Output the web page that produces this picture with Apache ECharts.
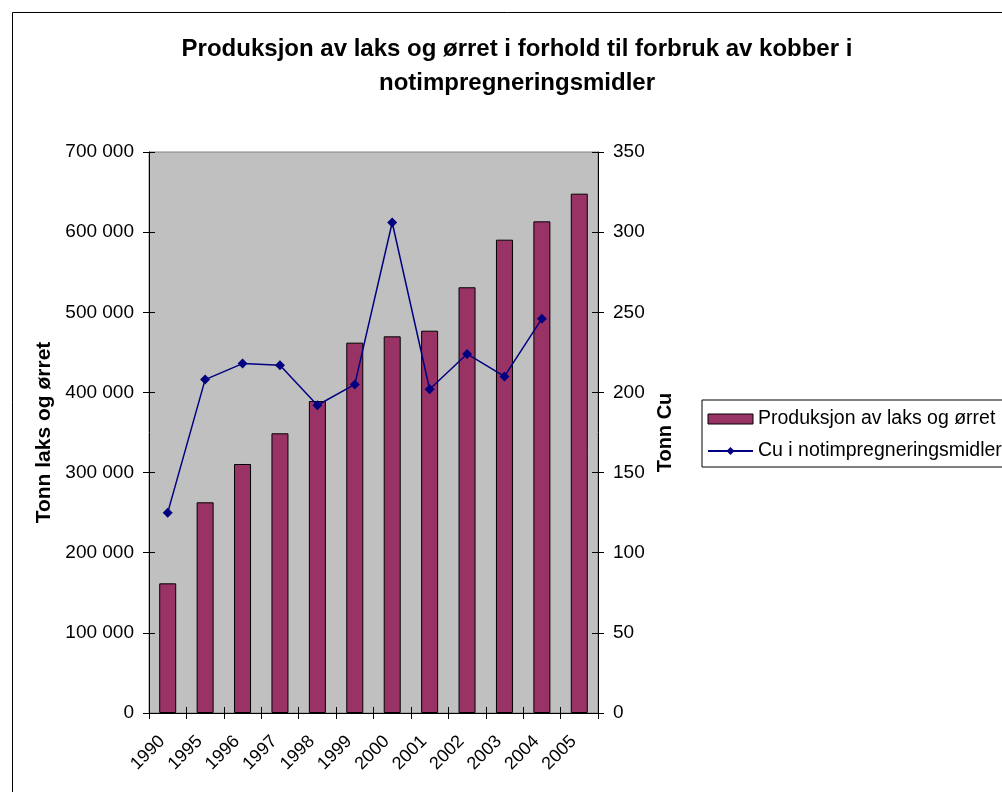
<!DOCTYPE html>
<html>
<head>
<meta charset="utf-8">
<script src="https://cdn.jsdelivr.net/npm/echarts@6/dist/echarts.min.js"></script>
<style>
html,body{margin:0;padding:0;background:#fff;}
#chart{width:1002px;height:792px;}
</style>
</head>
<body>
<div id="chart"></div>
<script>
var categories = ['1990','1995','1996','1997','1998','1999','2000','2001','2002','2003','2004','2005'];
var production = [161800, 262900, 310700, 349000, 389300, 462100, 470000, 477000, 531200, 590600, 613500, 648000];
var copper = [125, 208, 218, 217, 192, 205, 306, 202, 224, 210, 246, null];
var titleText = 'Produksjon av laks og ørret i forhold til forbruk av kobber i\nnotimpregneringsmidler';
var barName = 'Produksjon av laks og ørret';
var lineName = 'Cu i notimpregneringsmidler';
var leftAxisName = 'Tonn laks og ørret';
var rightAxisName = 'Tonn Cu';

var font = 'Liberation Sans, Arial, sans-serif';
function fmt(v){ return String(v).replace(/\B(?=(\d{3})+(?!\d))/g, ' '); }

var tickOnly = {
  axisLine: {show: false},
  axisLabel: {show: false},
  splitLine: {show: false},
  axisTick: {show: true, inside: true, length: 6, lineStyle: {color: '#000'}}
};

var chart = echarts.init(document.getElementById('chart'), null, {renderer:'canvas'});
chart.setOption({
  animation: false,
  backgroundColor: '#ffffff',
  textStyle: {fontFamily: font},
  graphic: [{
    type: 'rect', z: -10,
    shape: {x: 12.5, y: 12.5, width: 1000, height: 800},
    style: {fill: 'none', stroke: '#000', lineWidth: 1}
  }],
  title: {
    text: titleText,
    left: 512, top: 27, textAlign: 'center',
    textStyle: {fontFamily: font, fontSize: 24, fontWeight: 'bold', color: '#000', lineHeight: 34}
  },
  legend: {
    orient: 'vertical', left: 702, top: 400,
    borderColor: '#000', borderWidth: 1, padding: [9, 6, 6, 5],
    itemGap: 12, itemWidth: 45, itemHeight: 10,
    textStyle: {fontFamily: font, fontSize: 19.5, color: '#000'},
    data: [
      {name: barName, icon: 'rect', itemStyle: {borderColor: '#000', borderWidth: 1}},
      {name: lineName}
    ]
  },
  grid: {left: 149, right: 404, top: 152, bottom: 79, show: true, backgroundColor: '#C0C0C0', borderColor: '#808080', borderWidth: 1},
  xAxis: [{
    type: 'category', data: categories,
    axisLine: {lineStyle: {color: '#000', width: 1}},
    axisTick: {show: true, length: 6, lineStyle: {color: '#000'}},
    axisLabel: {rotate: 45, margin: 20, padding: [0, 8, 0, 0], fontSize: 18, color: '#000', fontFamily: font, interval: 0}
  }, Object.assign({type: 'category', data: categories, position: 'bottom'}, tickOnly)],
  yAxis: [{
    type: 'value', min: 0, max: 700000, interval: 100000,
    name: leftAxisName, nameLocation: 'middle', nameGap: 94, nameRotate: 90,
    nameTextStyle: {fontFamily: font, fontSize: 21, fontWeight: 'bold', color: '#000'},
    axisLine: {show: true, lineStyle: {color: '#000'}},
    axisTick: {show: true, length: 6, lineStyle: {color: '#000'}},
    splitLine: {show: false},
    axisLabel: {formatter: fmt, fontSize: 19, color: '#000', fontFamily: font, margin: 15}
  }, {
    type: 'value', min: 0, max: 350, interval: 50, position: 'right',
    name: rightAxisName, nameLocation: 'middle', nameGap: 57, nameRotate: 90,
    nameTextStyle: {fontFamily: font, fontSize: 20, fontWeight: 'bold', color: '#000'},
    axisLine: {show: true, lineStyle: {color: '#000'}},
    axisTick: {show: true, length: 6, lineStyle: {color: '#000'}},
    splitLine: {show: false},
    axisLabel: {fontSize: 19, color: '#000', fontFamily: font, margin: 15}
  }, Object.assign({type: 'value', min: 0, max: 700000, interval: 100000, position: 'left'}, tickOnly),
     Object.assign({type: 'value', min: 0, max: 350, interval: 50, position: 'right'}, tickOnly)],
  series: [{
    name: barName, type: 'bar', data: production, barWidth: 17, yAxisIndex: 0, xAxisIndex: 0,
    itemStyle: {color: '#993366', borderColor: '#000', borderWidth: 1}
  }, {
    name: lineName, type: 'line', data: copper, yAxisIndex: 1, xAxisIndex: 0,
    symbol: 'diamond', symbolSize: 10, showAllSymbol: true,
    lineStyle: {color: '#000080', width: 1.5},
    itemStyle: {color: '#000080'}
  }]
});
</script>
</body>
</html>
